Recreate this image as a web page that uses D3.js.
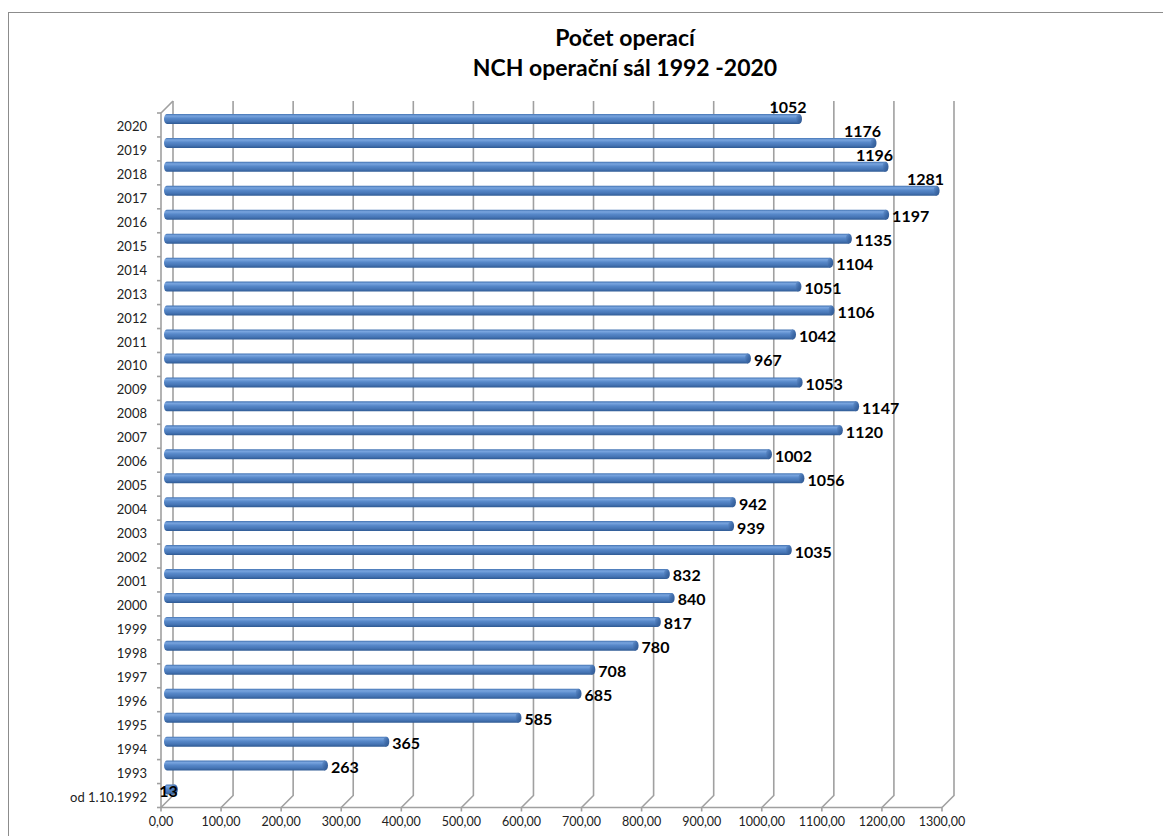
<!DOCTYPE html>
<html>
<head>
<meta charset="utf-8">
<script src="https://cdn.jsdelivr.net/npm/d3@7/dist/d3.min.js"></script>
<style>
  html, body { margin: 0; padding: 0; background: #fff; }
  svg { display: block; font-family: Lato, "Open Sans", sans-serif; }
</style>
</head>
<body>
<svg id="chart" width="1163" height="836"></svg>
<script>
// Operations per year, bottom row first
const categories = ["od 1.10.1992", "1993", "1994", "1995", "1996", "1997", "1998", "1999", "2000",
  "2001", "2002", "2003", "2004", "2005", "2006", "2007", "2008", "2009", "2010",
  "2011", "2012", "2013", "2014", "2015", "2016", "2017", "2018", "2019", "2020"];
const operations = [13, 263, 365, 585, 685, 708, 780, 817, 840,
  832, 1035, 939, 942, 1056, 1002, 1120, 1147, 1053, 967,
  1042, 1106, 1051, 1104, 1135, 1197, 1281, 1196, 1176, 1052];
const valueTicks = [0, 100, 200, 300, 400, 500, 600, 700, 800, 900, 1000, 1100, 1200, 1300];
const titleLines = ["Počet operací", "NCH operační sál 1992 -2020"];

const svg = d3.select("#chart");

// chart frame
svg.append("rect")
  .attr("x", 8.5).attr("y", 12.5)
  .attr("width", 1300).attr("height", 900)
  .attr("fill", "none").attr("stroke", "#8c8c8c").attr("stroke-width", 1);

// title
svg.append("g").selectAll("text").data(titleLines).join("text")
  .attr("x", 625).attr("y", (d, i) => 46 + i * 30)
  .attr("text-anchor", "middle")
  .attr("font-size", 23).attr("font-weight", "bold").attr("fill", "#000")
  .text(d => d);

// 3D box geometry: front plane and back wall offset by depth
const frontLeft = 161, depthX = 12, depthY = -12;
const frontTop = 113, frontBottom = 807.5;
const x = d3.scaleLinear().domain([0, 1300]).range([frontLeft, frontLeft + 781]);
const y = d3.scaleBand().domain(categories.slice().reverse()).range([frontTop, frontBottom]);
const gridColor = "#a0a0a0";

const grid = svg.append("g").attr("stroke", gridColor).attr("stroke-width", 1.6).attr("fill", "none");

// back wall vertical gridlines + floor diagonals + ticks
valueTicks.forEach(v => {
  const xb = x(v) + depthX, xf = x(v);
  grid.append("path")
    .attr("d", `M${xb},${frontTop + depthY} L${xb},${frontBottom + depthY} L${xf},${frontBottom} L${xf},${frontBottom + 4}`);
});
// front floor edge
grid.append("line")
  .attr("x1", x(0)).attr("x2", x(1300))
  .attr("y1", frontBottom).attr("y2", frontBottom);
// left wall front edge and its top corner
grid.append("path")
  .attr("d", `M${frontLeft + depthX},${frontTop + depthY} L${frontLeft},${frontTop} L${frontLeft},${frontBottom}`);
// category ticks
const bounds = y.domain().map(c => y(c)).concat([frontBottom]);
grid.selectAll("line.ctick").data(bounds).join("line")
  .attr("class", "ctick")
  .attr("x1", frontLeft - 4).attr("x2", frontLeft)
  .attr("y1", d => d).attr("y2", d => d);

// value axis labels
const fmt = d3.formatLocale({ decimal: ",", thousands: "", grouping: [3], currency: ["", ""] }).format(".2f");
svg.append("g").selectAll("text").data(valueTicks).join("text")
  .attr("x", d => x(d)).attr("y", 826)
  .attr("text-anchor", "middle")
  .attr("font-size", 12.5).attr("fill", "#222")
  .text(d => fmt(d));

// category labels
svg.append("g").selectAll("text").data(categories).join("text")
  .attr("x", 147).attr("y", d => y(d) + y.bandwidth() / 2 + 1)
  .attr("text-anchor", "end").attr("dominant-baseline", "central")
  .attr("font-size", 13).attr("fill", "#222")
  .text(d => d);

// cylinder shading
const defs = svg.append("defs");
const body = defs.append("linearGradient").attr("id", "cylBody")
  .attr("x1", 0).attr("y1", 0).attr("x2", 0).attr("y2", 1);
[[0, "#4373b2"], [0.2, "#79a5df"], [0.45, "#5788c9"], [0.75, "#4675b5"], [1, "#2f5a93"]]
  .forEach(([o, c]) => body.append("stop").attr("offset", o).attr("stop-color", c));
const cap = defs.append("linearGradient").attr("id", "cylCap")
  .attr("x1", 0).attr("y1", 0).attr("x2", 1).attr("y2", 1);
[[0, "#6a97d3"], [0.5, "#3f6caa"], [1, "#2d548c"]]
  .forEach(([o, c]) => cap.append("stop").attr("offset", o).attr("stop-color", c));

// bars sit halfway into the depth
const midX = v => x(v) + depthX / 2;
const barH = 10, rx = 3;
const rows = categories.map((c, i) => ({ cat: c, value: operations[i], idx: i }));
const barCy = d => y(d.cat) + y.bandwidth() / 2 + depthY / 2;

const bars = svg.append("g");
bars.selectAll("path.body").data(rows).join("path")
  .attr("class", "body")
  .attr("d", d => {
    const x0 = midX(0), x1 = midX(d.value), cy = barCy(d), h = barH / 2;
    return `M${x1},${cy - h} L${x0},${cy - h} A${rx},${h} 0 0 0 ${x0},${cy + h} L${x1},${cy + h} Z`;
  })
  .attr("fill", "url(#cylBody)");
bars.selectAll("ellipse").data(rows).join("ellipse")
  .attr("cx", d => midX(d.value)).attr("cy", barCy)
  .attr("rx", rx).attr("ry", barH / 2)
  .attr("fill", "url(#cylCap)");

// value labels: to the right of each bar, lifted above the bar for the top rows
const n = rows.length;
svg.append("g").selectAll("text").data(rows).join("text")
  .attr("x", d => {
    const xe = midX(d.value) + rx;
    if (d.idx >= n - 4) return xe - 14;
    if (d.value < 50) return xe;
    return xe + 3;
  })
  .attr("y", d => barCy(d) + (d.idx >= n - 4 ? -12 : 1))
  .attr("text-anchor", d => d.idx >= n - 4 ? "middle" : (d.value < 50 ? "end" : "start"))
  .attr("dominant-baseline", "central")
  .attr("font-size", 16).attr("font-weight", "bold").attr("fill", "#000")
  .text(d => d.value);
</script>
</body>
</html>
